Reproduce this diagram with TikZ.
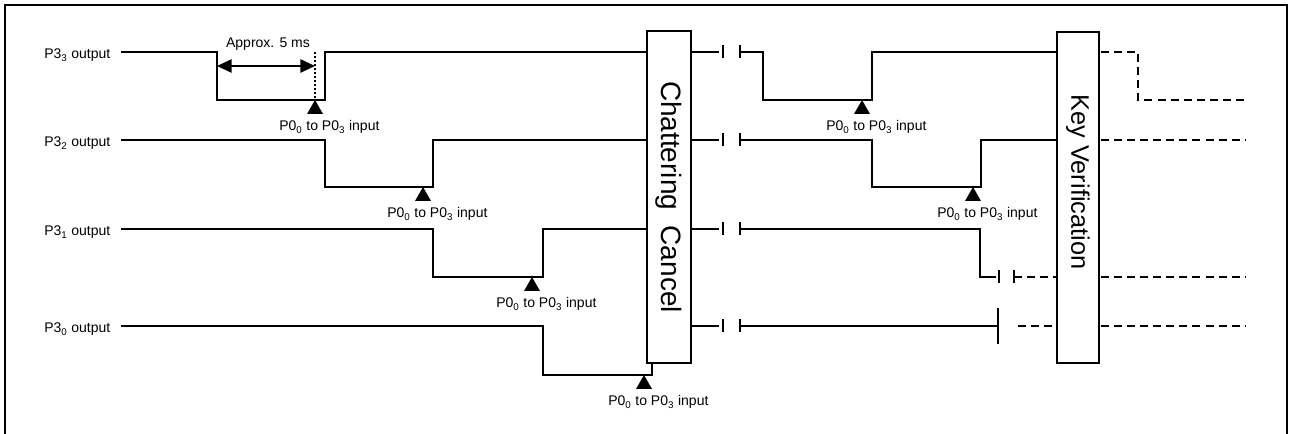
\documentclass[tikz,border=0pt]{standalone}
\usepackage{fontspec}
\setmainfont{Liberation Sans}
\usetikzlibrary{arrows.meta}
\newcommand{\Pin}{P0\textsubscript{0} to P0\textsubscript{3} input}
% input marker: triangle at the sample point with its label below
\newcommand{\inmark}[3]{\fill (#2,#3) -- ++(-8,14) -- ++(16,0) -- cycle;
  \node[tag] (#1) at (#2-36,#3+31) {\Pin};}
% break mark in a signal line
\newcommand{\gapmark}[3]{\draw[brk] (#1,#3-6.5) -- (#1,#3+6.5);
  \draw[brk] (#2,#3-6.5) -- (#2,#3+6.5);}

\begin{document}
\begin{tikzpicture}[x=0.75pt,y=-0.75pt,
  font=\fontsize{10.5}{12}\selectfont,
  sig/.style={line width=.8pt},
  dsig/.style={line width=1.3pt,dash pattern=on 6pt off 3.8pt},
  blk/.style={draw,line width=1.2pt,inner sep=0pt},
  lbl/.style={anchor=base west,inner sep=0pt},
  tag/.style={anchor=base west,inner sep=0pt},
  brk/.style={line width=.8pt},
  dim/.style={{Triangle[length=11pt,width=10pt]}-{Triangle[length=11pt,width=10pt]},
              line width=1.3pt}]
\useasboundingbox (0,0) rectangle (1289,434);
\draw[line width=1.6pt] (5,436) -- (5,5) -- (1287,5) -- (1287,436);

% blocks
\node[blk,minimum width=33pt,minimum height=249pt] (cc) at (669,197) {};
\node[rotate=-90,font=\fontsize{21}{24}\selectfont] (cct) at (669,197)
  {Chattering\ \ Cancel};
\node[blk,minimum width=31.5pt,minimum height=248pt] (kv) at (1078,197.5) {};
\node[rotate=-90,font=\fontsize{19}{22}\selectfont] (kvt) at (1078,182)
  {Key Verification};

% port names
\node[lbl] (p33) at (44,59)  {P3\textsubscript{3} output};
\node[lbl] (p32) at (44,147) {P3\textsubscript{2} output};
\node[lbl] (p31) at (44,236) {P3\textsubscript{1} output};
\node[lbl] (p30) at (44,333) {P3\textsubscript{0} output};

% scan signals before chattering cancel
\draw[sig] (121,52) -- (217,52) -- (217,100) -- (325,100) -- (325,52) -- (647,52);
\draw[sig] (121,140) -- (325,140) -- (325,187) -- (433,187) -- (433,140) -- (647,140);
\draw[sig] (121,229) -- (433,229) -- (433,277) -- (543,277) -- (543,229) -- (647,229);
\draw[sig] (121,326) -- (543,326) -- (543,375) -- (652,375) -- (652,363);

\node[tag,anchor=base] (apx) at (268,48) {Approx. 5 ms};
\draw[dim] (217,66) -- (315,66);
\draw[line width=1pt,dash pattern=on 1.2pt off 1.8pt] (315,52) -- (315,100);

\inmark{s3}{315}{100}
\inmark{s2}{423}{187}
\inmark{s1}{532}{277}
\inmark{s0}{644}{375}

% after chattering cancel
\draw[sig] (691,52) -- (719,52);   \gapmark{723}{740}{52}
\draw[sig] (691,140) -- (719,140); \gapmark{723}{740}{140}
\draw[sig] (691,229) -- (719,229); \gapmark{723}{740}{229}
\draw[sig] (691,326) -- (719,326); \gapmark{723}{740}{326}

\draw[sig] (740,52) -- (763,52) -- (763,100) -- (872,100) -- (872,52) -- (1057,52);
\draw[sig] (740,140) -- (872,140) -- (872,187) -- (981,187) -- (981,140) -- (1057,140);
\draw[sig] (740,229) -- (980,229) -- (980,277) -- (996,277);
\gapmark{999}{1014}{277}
\draw[dsig] (1014,277) -- (1057,277);
\draw[sig] (740,326) -- (998,326);
\draw[brk] (998,308) -- (998,344);
\draw[dsig] (1018,326) -- (1057,326);

\inmark{t3}{862}{100}
\inmark{t2}{973}{187}

% after key verification
\draw[dsig] (1101,52) -- (1138,52) -- (1138,100) -- (1245,100);
\draw[dsig] (1101,140) -- (1245,140);
\draw[dsig] (1101,277) -- (1245,277);
\draw[dsig] (1101,326) -- (1245,326);
\end{tikzpicture}
\end{document}
